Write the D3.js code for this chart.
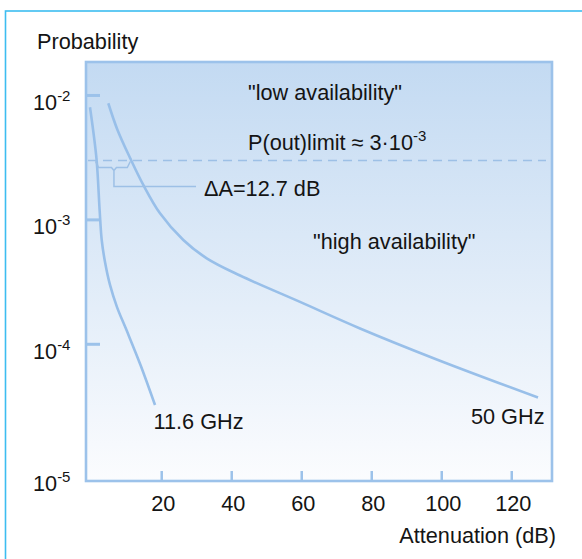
<!DOCTYPE html>
<html><head><meta charset="utf-8">
<script src="https://cdn.jsdelivr.net/npm/d3@7"></script>
<style>
body{margin:0;background:#fff}
svg{display:block}
text{font-family:"Liberation Sans",Arial,Helvetica,sans-serif;fill:#141414}
</style>
</head><body>
<script>
// ---- data ----
const xTickValues = [20, 40, 60, 80, 100, 120];
const yTickValues = [1e-2, 1e-3, 1e-4, 1e-5];
const yTickExponents = ["-2", "-3", "-4", "-5"];
const att116  = [-0.49, 1.37, 2.26, 2.86, 3.8, 5.23, 7.23, 9.94, 13.94, 18.09];
const prob116 = [8.04e-3, 3.09e-3, 1.20e-3, 6.89e-4, 4.59e-4, 3.00e-4, 1.99e-4, 1.30e-4, 6.82e-5, 3.25e-5];
const att50   = [4.74, 7.37, 11.09, 14.74, 19.51, 26.17, 32.86, 42.37, 59.51, 76.66, 98.57, 127.5];
const prob50  = [8.66e-3, 5.28e-3, 3.09e-3, 1.91e-3, 1.13e-3, 6.89e-4, 4.91e-4, 3.57e-4, 2.19e-4, 1.34e-4, 7.55e-5, 3.73e-5];
const pLimit = 3e-3;
const seriesLabels = ["11.6 GHz", "50 GHz"];

// ---- layout ----
const W = 582, H = 559;
const L = 86, R = 552, T = 62, B = 481;
const blue = "#9cc2ea";
const curveBlue = "#98bfe9";

const svg = d3.select("body").append("svg").attr("width", W).attr("height", H);

// outer frame
svg.append("rect").attr("x", 5.5).attr("y", 11).attr("width", W + 20).attr("height", H + 20)
  .attr("fill", "none").attr("stroke", "#3dbdf0").attr("stroke-width", 1.6);

const x = d3.scaleLinear().domain([-1.63, 131.5]).range([L, R]);
const y = d3.scaleLog().domain([Math.pow(10, -5.099), Math.pow(10, -1.731)]).range([B, T]);

// gradient background
const defs = svg.append("defs");
const grad = defs.append("linearGradient").attr("id", "bg").attr("x1", 0).attr("y1", 0).attr("x2", 0).attr("y2", 1);
grad.append("stop").attr("offset", "0%").attr("stop-color", "#c3daf2");
grad.append("stop").attr("offset", "100%").attr("stop-color", "#fbfcfe");
svg.append("rect").attr("x", L).attr("y", T).attr("width", R - L).attr("height", B - T).attr("fill", "url(#bg)");

// y ticks (short marks inside plot; the lowest decade sits on the axis)
svg.append("g").selectAll("line").data(yTickValues.filter(v => y(v) < B - 20)).join("line")
  .attr("x1", L).attr("x2", L + 14).attr("y1", d => y(d)).attr("y2", d => y(d))
  .attr("stroke", blue).attr("stroke-width", 3);

// x ticks
svg.append("g").selectAll("line").data(xTickValues).join("line")
  .attr("x1", d => x(d)).attr("x2", d => x(d)).attr("y1", B - 10).attr("y2", B)
  .attr("stroke", blue).attr("stroke-width", 2.5);

// dashed limit line
const yd = y(pLimit);
svg.append("line").attr("x1", L + 2).attr("x2", R - 6).attr("y1", yd).attr("y2", yd)
  .attr("stroke", "#9dc0e6").attr("stroke-width", 1.5).attr("stroke-dasharray", "9,6");

// curves
const line = d3.line().x(d => x(d[0])).y(d => y(d[1])).curve(d3.curveCatmullRom.alpha(0.5));
const s116 = att116.map((a, i) => [a, prob116[i]]);
const s50 = att50.map((a, i) => [a, prob50[i]]);
[s116, s50].forEach(s => {
  svg.append("path").attr("d", line(s)).attr("fill", "none")
    .attr("stroke", curveBlue).attr("stroke-width", 2.6).attr("stroke-linecap", "butt");
});

// crossing of each curve with the limit (log interpolation)
function crossing(s, p) {
  for (let i = 0; i < s.length - 1; i++) {
    const a = s[i], b = s[i + 1];
    if ((a[1] - p) * (b[1] - p) <= 0) {
      const t = (Math.log10(p) - Math.log10(a[1])) / (Math.log10(b[1]) - Math.log10(a[1]));
      return a[0] + t * (b[0] - a[0]);
    }
  }
  return s[0][0];
}
const xa = x(crossing(s116, pLimit)), xb = x(crossing(s50, pLimit));
const mid = (xa + xb) / 2;
const brace = d3.path();
brace.moveTo(xa - 1, yd + 1);
brace.lineTo(xa + 2, yd + 7);
brace.lineTo(mid - 2.5, yd + 7);
brace.lineTo(mid, yd + 10);
brace.lineTo(mid + 2.5, yd + 7);
brace.lineTo(xb - 4, yd + 7);
brace.lineTo(xb - 1, yd + 1);
brace.moveTo(mid, yd + 10);
brace.lineTo(mid, yd + 26);
brace.lineTo(196, yd + 26);
svg.append("path").attr("d", brace.toString()).attr("fill", "none")
  .attr("stroke", "#9dc0e6").attr("stroke-width", 1.5);

// plot border
svg.append("rect").attr("x", L).attr("y", T).attr("width", R - L).attr("height", B - T)
  .attr("fill", "none").attr("stroke", blue).attr("stroke-width", 2.6);

// ---- texts ----
const fs = 21.7;
svg.append("text").attr("x", 37).attr("y", 48.5).attr("font-size", fs).text("Probability");

// y tick labels
yTickValues.forEach((v, i) => {
  const ty = (y(v) < B - 20) ? y(v) + 14.5 : B + 10;
  const t = svg.append("text").attr("x", 33).attr("y", ty).attr("font-size", fs);
  t.append("tspan").text("10");
  t.append("tspan").attr("font-size", 15).attr("dy", -9).text(yTickExponents[i]);
});

// x tick labels
svg.append("g").selectAll("text").data(xTickValues).join("text")
  .attr("x", d => x(d) + 1.5).attr("y", 510.5).attr("text-anchor", "middle").attr("font-size", fs)
  .text(d => d);

svg.append("text").attr("x", 556).attr("y", 543).attr("text-anchor", "end").attr("font-size", fs)
  .text("Attenuation (dB)");

svg.append("text").attr("x", 248).attr("y", 100).attr("font-size", fs).text("\"low availability\"");
const pt = svg.append("text").attr("x", 248).attr("y", 149.5).attr("font-size", fs);
pt.append("tspan").text("P(out)limit \u2248 3\u00b710");
pt.append("tspan").attr("font-size", 15).attr("dy", -9).text("-3");

svg.append("text").attr("x", 204).attr("y", yd + 35).attr("font-size", fs).text("\u0394A=12.7 dB");
svg.append("text").attr("x", 313).attr("y", 248.5).attr("font-size", fs).text("\"high availability\"");

const last116 = s116[s116.length - 1], last50 = s50[s50.length - 1];
svg.append("text").attr("x", x(last116[0]) - 1.5).attr("y", y(last116[1]) + 23.5).attr("font-size", fs).text(seriesLabels[0]);
svg.append("text").attr("x", x(last50[0]) + 6.5).attr("y", y(last50[1]) + 26).attr("text-anchor", "end").attr("font-size", fs).text(seriesLabels[1]);
</script>
</body></html>
